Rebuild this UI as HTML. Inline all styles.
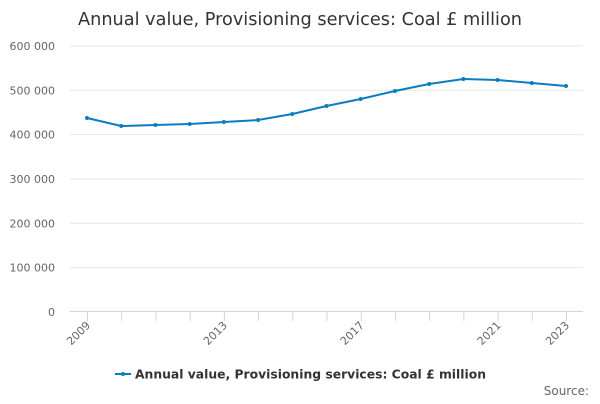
<!DOCTYPE html>
<html><head><meta charset="utf-8"><style>
body{margin:0;background:#fff;width:600px;height:400px;overflow:hidden;font-family:"DejaVu Sans","Liberation Sans",sans-serif}
</style></head><body>
<svg id="chart" width="600" height="400" xmlns="http://www.w3.org/2000/svg" font-family="DejaVu Sans, Liberation Sans, sans-serif">
<text x="78" y="25" font-size="17.5" fill="#333" textLength="444" lengthAdjust="spacingAndGlyphs">Annual value, Provisioning services: Coal £ million</text>
<g id="grid"></g><g id="xaxis"></g><g id="series"></g>
<g>
<line x1="115" y1="374" x2="131" y2="374" stroke="#0a7cc1" stroke-width="2"/>
<circle cx="123" cy="374" r="2" fill="#0a7cc1"/>
<text x="135" y="378.5" font-size="12.5" font-weight="bold" fill="#333" textLength="351" lengthAdjust="spacingAndGlyphs">Annual value, Provisioning services: Coal £ million</text>
</g>
<text x="589" y="395" font-size="12" fill="#666" text-anchor="end">Source:</text>
</svg>
<script>
const years=[2009,2010,2011,2012,2013,2014,2015,2016,2017,2018,2019,2020,2021,2022,2023];
const values=[437600,419500,421800,424000,428600,433000,446600,464600,480500,498500,514300,525600,523300,516500,509800];
const yTicks=[0,100000,200000,300000,400000,500000,600000];
const yTickLabels=["0","100 000","200 000","300 000","400 000","500 000","600 000"];
const xLabelYears=[2009,2013,2017,2021,2023];
const NS="http://www.w3.org/2000/svg";
const x=y=>87+(y-2009)*(566-87)/14;
const yS=v=>312-v*266/600000;
function mk(t,a,p){const e=document.createElementNS(NS,t);for(const k in a)e.setAttribute(k,a[k]);p.appendChild(e);return e;}
const grid=document.getElementById('grid'),xa=document.getElementById('xaxis'),ser=document.getElementById('series');
yTicks.forEach((v,i)=>{
 if(v>0){const l=mk('line',{x1:70,x2:583,y1:yS(v),y2:yS(v),stroke:'#e6e6e6','stroke-width':1},grid);
 
 }
 const t=mk('text',{x:55,y:yS(v)+4,'font-size':11,fill:'#666','text-anchor':'end'},grid);t.textContent=yTickLabels[i];
 
 
});
const ax=mk('line',{x1:70,x2:583,y1:311.5,y2:311.5,stroke:'#ccd6eb','stroke-width':1},xa);


years.forEach(yr=>{
 const tk=mk('line',{x1:x(yr)+0.5,x2:x(yr)+0.5,y1:311,y2:321,stroke:'#ccd6eb'},xa);
 
 
});
xLabelYears.forEach(yr=>{
 const t=mk('text',{x:x(yr)+4,y:326,'font-size':11,fill:'#666','text-anchor':'end',transform:`rotate(-45 ${x(yr)+4} 326)`},xa);
 t.textContent=yr;
 
 
});
const p=mk('path',{d:years.map((yr,i)=>(i?'L':'M')+x(yr)+' '+yS(values[i])).join(' '),fill:'none',stroke:'#0a7cc1','stroke-width':2},ser);


years.forEach((yr,i)=>{
 const c=mk('circle',{cx:x(yr),cy:yS(values[i]),r:2,fill:'#0a7cc1'},ser);
 
 
});
</script>
</body></html>
